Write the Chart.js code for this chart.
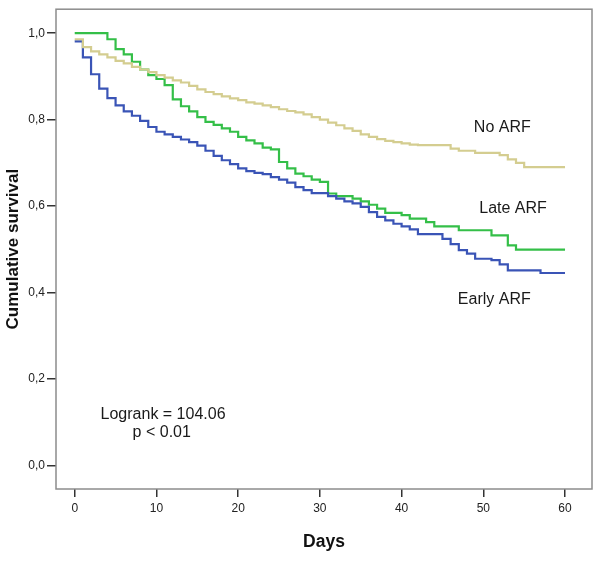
<!DOCTYPE html>
<html>
<head>
<meta charset="utf-8">
<script src="https://cdn.jsdelivr.net/npm/chart.js@4/dist/chart.umd.min.js"></script>
<style>
  html, body { margin: 0; padding: 0; background: #ffffff; }
  #wrap { width: 600px; height: 562px; }
</style>
</head>
<body>
<div id="wrap"><canvas id="c" width="600" height="562"></canvas></div>
<script>
// ---- Data ----
const seriesNames = ["No ARF", "Early ARF", "Late ARF"];

const noArfDays = [0, 1, 2, 3, 4, 5, 6, 7, 8, 9, 10, 11, 12, 13, 14, 15, 16, 17, 18, 19, 20, 21, 22, 23, 24, 25, 26, 27, 28, 29, 30, 31, 32, 33, 34, 35, 36, 37, 38, 39, 40, 41, 42, 46, 47, 49, 52, 53, 54, 55, 60];
const noArfSurv = [0.986, 0.968, 0.958, 0.951, 0.944, 0.936, 0.930, 0.922, 0.916, 0.910, 0.903, 0.897, 0.891, 0.886, 0.878, 0.870, 0.864, 0.859, 0.854, 0.849, 0.845, 0.840, 0.837, 0.833, 0.829, 0.824, 0.820, 0.817, 0.812, 0.806, 0.800, 0.793, 0.787, 0.780, 0.774, 0.766, 0.760, 0.755, 0.751, 0.748, 0.745, 0.742, 0.741, 0.733, 0.728, 0.723, 0.718, 0.708, 0.700, 0.690, 0.690];

const earlyDays = [0, 1, 2, 3, 4, 5, 6, 7, 8, 9, 10, 11, 12, 13, 14, 15, 16, 17, 18, 19, 20, 21, 22, 23, 24, 25, 26, 27, 28, 29, 31, 32, 33, 34, 35, 36, 37, 38, 39, 40, 41, 42, 45, 46, 47, 48, 49, 51, 52, 53, 57, 60];
const earlySurv = [0.981, 0.944, 0.905, 0.872, 0.850, 0.833, 0.819, 0.809, 0.797, 0.783, 0.772, 0.766, 0.760, 0.754, 0.748, 0.740, 0.728, 0.716, 0.706, 0.697, 0.687, 0.681, 0.677, 0.674, 0.667, 0.661, 0.654, 0.644, 0.637, 0.630, 0.623, 0.617, 0.611, 0.606, 0.598, 0.586, 0.575, 0.567, 0.559, 0.553, 0.546, 0.535, 0.524, 0.512, 0.498, 0.490, 0.478, 0.475, 0.465, 0.451, 0.445, 0.445];

const lateDays = [0, 4, 5, 6, 7, 8, 9, 10, 11, 12, 13, 14, 15, 16, 17, 18, 19, 20, 21, 22, 23, 24, 25, 26, 27, 28, 29, 30, 31, 32, 34, 35, 36, 37, 38, 40, 41, 43, 44, 47, 51, 53, 54, 60];
const lateSurv = [1.000, 0.986, 0.963, 0.951, 0.934, 0.916, 0.903, 0.894, 0.880, 0.847, 0.831, 0.819, 0.806, 0.795, 0.788, 0.780, 0.772, 0.760, 0.752, 0.745, 0.735, 0.731, 0.702, 0.687, 0.675, 0.669, 0.661, 0.656, 0.629, 0.623, 0.617, 0.611, 0.603, 0.594, 0.584, 0.579, 0.571, 0.563, 0.553, 0.544, 0.532, 0.509, 0.499, 0.499];

const xTickValues = [0, 10, 20, 30, 40, 50, 60];
const yTickValues = [0.0, 0.2, 0.4, 0.6, 0.8, 1.0];

const xAxisTitle = "Days";
const yAxisTitle = "Cumulative survival";
const statLines = ["Logrank = 104.06", "p < 0.01"];

// ---- Styles ----
const colors = { "No ARF": "#d4cd90", "Early ARF": "#3a54b6", "Late ARF": "#34bf48" };
const FONT = '"Liberation Sans", Arial, Helvetica, sans-serif';

function pts(days, surv) { return days.map((d, i) => ({ x: d, y: surv[i] })); }

const dataMap = {
  "No ARF": pts(noArfDays, noArfSurv),
  "Early ARF": pts(earlyDays, earlySurv),
  "Late ARF": pts(lateDays, lateSurv)
};

// Text annotations placed in data coordinates
const annotations = [
  { text: "No ARF", x: 52.32, y: 0.772 },
  { text: "Late ARF", x: 53.64, y: 0.583 },
  { text: "Early ARF", x: 51.34, y: 0.374 },
  { text: statLines[0], x: 10.81, y: 0.106 },
  { text: statLines[1], x: 10.65, y: 0.066 }
];

const framePlugin = {
  id: 'frame',
  beforeDatasetsDraw(chart) {
    const { ctx, chartArea: a } = chart;
    ctx.save();
    ctx.strokeStyle = '#8c8c8c';
    ctx.lineWidth = 1.5;
    ctx.strokeRect(a.left, a.top, a.right - a.left, a.bottom - a.top);
    ctx.restore();
  },
  afterDatasetsDraw(chart) {
    const { ctx, scales } = chart;
    ctx.save();
    ctx.fillStyle = '#1a1a1a';
    ctx.font = '16px ' + FONT;
    ctx.textAlign = 'center';
    ctx.textBaseline = 'alphabetic';
    annotations.forEach(an => {
      ctx.fillText(an.text, scales.x.getPixelForValue(an.x), scales.y.getPixelForValue(an.y));
    });
    ctx.restore();
  }
};

new Chart(document.getElementById('c'), {
  type: 'line',
  data: {
    datasets: seriesNames.map(n => ({
      label: n,
      data: dataMap[n],
      borderColor: colors[n],
      backgroundColor: colors[n],
      borderWidth: 2.2,
      pointRadius: 0,
      stepped: 'before',
      fill: false,
      tension: 0
    }))
  },
  options: {
    responsive: false,
    animation: false,
    parsing: true,
    layout: { padding: { top: 9, right: 8, left: 0, bottom: 0 } },
    plugins: { legend: { display: false }, tooltip: { enabled: false } },
    scales: {
      x: {
        type: 'linear',
        min: -2.29,
        max: 63.3,
        afterBuildTicks(s) { s.ticks = xTickValues.map(v => ({ value: v })); },
        afterFit(s) { s.height = 73; },
        border: { display: false },
        grid: { drawOnChartArea: false, drawTicks: true, tickLength: 8, color: '#333', lineWidth: 1.5 },
        ticks: { color: '#222', font: { family: FONT, size: 12 }, padding: 4, maxRotation: 0 },
        title: { display: true, text: xAxisTitle, color: '#111', font: { family: FONT, size: 17.5, weight: 'bold' }, padding: { top: 0, bottom: 9 } }
      },
      y: {
        type: 'linear',
        min: -0.0549,
        max: 1.0556,
        afterBuildTicks(s) { s.ticks = yTickValues.map(v => ({ value: v })); },
        afterFit(s) { s.width = 56; },
        border: { display: false },
        grid: { drawOnChartArea: false, drawTicks: true, tickLength: 9, color: '#333', lineWidth: 1.5 },
        ticks: { color: '#222', font: { family: FONT, size: 12 }, padding: 2, callback: v => Number(v).toFixed(1).replace('.', ',') },
        title: { display: true, text: yAxisTitle, color: '#111', font: { family: FONT, size: 17, weight: 'bold' }, padding: { top: 3, bottom: 0 } }
      }
    }
  },
  plugins: [framePlugin]
});
</script>
</body>
</html>
